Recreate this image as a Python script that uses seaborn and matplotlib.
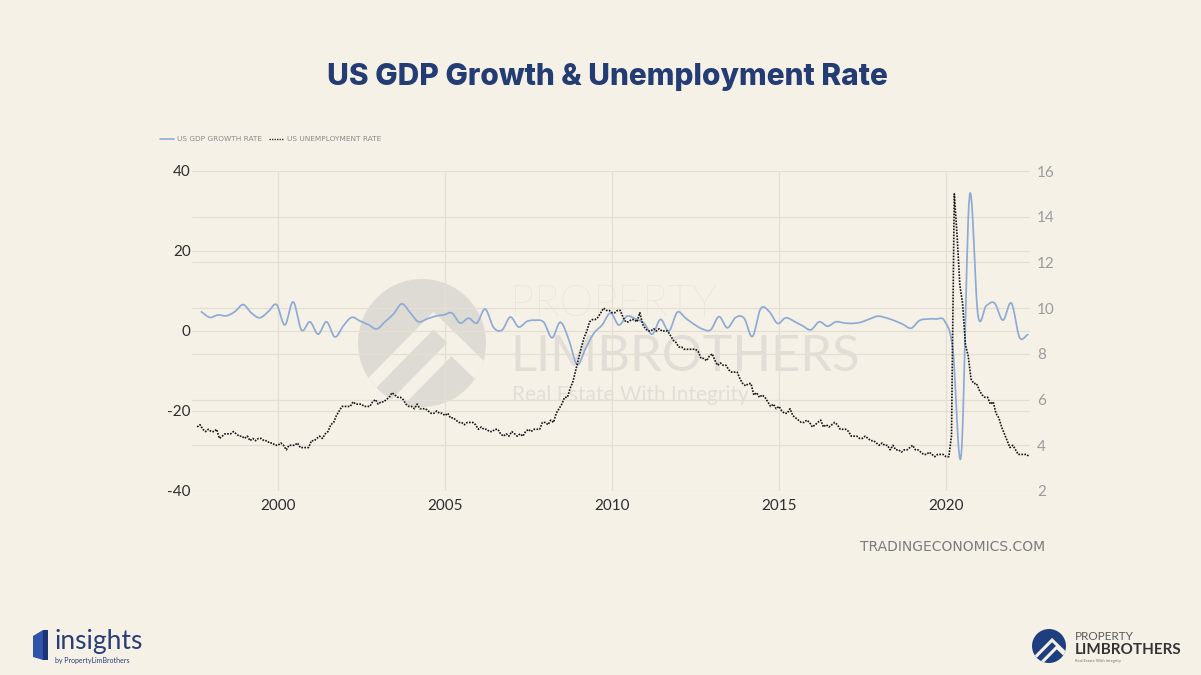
import numpy as np
import pandas as pd
import matplotlib
matplotlib.use("Agg")
import matplotlib.pyplot as plt
from matplotlib.lines import Line2D
from matplotlib.patches import Ellipse, Polygon
import seaborn as sns

# ---------------- data ----------------
# US real GDP growth, quarterly, annualised %, from 1997 Q3 to 2022 Q2
gdp_first_quarter = "1997Q3"
gdp_growth = [
    4.8, 3.4,                    # 1997 Q3-Q4
    4.0, 3.8, 4.8, 6.6,          # 1998
    4.5, 3.3, 4.8, 6.6,          # 1999
    1.5, 7.3, 0.2, 2.3,          # 2000
    -0.8, 2.3, -1.5, 1.3,        # 2001
    3.4, 2.5, 1.6, 0.5,          # 2002
    2.3, 4.2, 6.8, 4.6,          # 2003
    2.3, 3.0, 3.7, 4.0,          # 2004
    4.5, 2.0, 3.2, 2.0,          # 2005
    5.5, 0.9, 0.2, 3.5,          # 2006
    1.0, 2.4, 2.7, 2.2,          # 2007
    -1.7, 2.2, -2.1, -8.4,       # 2008
    -4.5, -0.6, 1.5, 4.5,        # 2009
    1.5, 3.7, 3.0, 2.0,          # 2010
    -0.8, 2.9, 0.0, 4.7,         # 2011
    3.2, 1.7, 0.5, 0.3,          # 2012
    3.6, 0.8, 3.4, 3.2,          # 2013
    -1.4, 5.6, 4.9, 1.9,         # 2014
    3.3, 2.4, 1.3, 0.3,          # 2015
    2.3, 1.2, 2.3, 2.0,          # 2016
    1.9, 2.2, 3.0, 3.7,          # 2017
    3.3, 2.6, 1.7, 0.7,          # 2018
    2.6, 3.0, 3.0, 2.5,          # 2019
    -4.6, -31.2, 33.8, 4.0,      # 2020
    6.3, 7.0, 2.7, 7.0,          # 2021
    -1.6, -0.9,                  # 2022 Q1-Q2
]

# US unemployment rate, monthly %, from Aug 1997 to Jul 2022
unemp_first_month = "1997-08-01"
unemployment = [
    4.8, 4.9, 4.7, 4.6, 4.7,                                        # 1997 Aug-Dec
    4.6, 4.6, 4.7, 4.3, 4.4, 4.5, 4.5, 4.5, 4.6, 4.5, 4.4, 4.4,     # 1998
    4.3, 4.4, 4.2, 4.3, 4.2, 4.3, 4.3, 4.2, 4.2, 4.1, 4.1, 4.0,     # 1999
    4.0, 4.1, 4.0, 3.8, 4.0, 4.0, 4.0, 4.1, 3.9, 3.9, 3.9, 3.9,     # 2000
    4.2, 4.2, 4.3, 4.4, 4.3, 4.5, 4.6, 4.9, 5.0, 5.3, 5.5, 5.7,     # 2001
    5.7, 5.7, 5.7, 5.9, 5.8, 5.8, 5.8, 5.7, 5.7, 5.7, 5.9, 6.0,     # 2002
    5.8, 5.9, 5.9, 6.0, 6.1, 6.3, 6.2, 6.1, 6.1, 6.0, 5.8, 5.7,     # 2003
    5.7, 5.6, 5.8, 5.6, 5.6, 5.6, 5.5, 5.4, 5.4, 5.5, 5.4, 5.4,     # 2004
    5.3, 5.4, 5.2, 5.2, 5.1, 5.0, 5.0, 4.9, 5.0, 5.0, 5.0, 4.9,     # 2005
    4.7, 4.8, 4.7, 4.7, 4.6, 4.6, 4.7, 4.7, 4.5, 4.4, 4.5, 4.4,     # 2006
    4.6, 4.5, 4.4, 4.5, 4.4, 4.6, 4.7, 4.6, 4.7, 4.7, 4.7, 5.0,     # 2007
    5.0, 4.9, 5.1, 5.0, 5.4, 5.6, 5.8, 6.1, 6.1, 6.5, 6.8, 7.3,     # 2008
    7.8, 8.3, 8.7, 9.0, 9.4, 9.5, 9.5, 9.6, 9.8, 10.0, 9.9, 9.9,    # 2009
    9.8, 9.8, 9.9, 9.9, 9.6, 9.4, 9.4, 9.5, 9.5, 9.4, 9.8, 9.3,     # 2010
    9.1, 9.0, 9.0, 9.1, 9.0, 9.1, 9.0, 9.0, 9.0, 8.8, 8.6, 8.5,     # 2011
    8.3, 8.3, 8.2, 8.2, 8.2, 8.2, 8.2, 8.1, 7.8, 7.8, 7.7, 7.9,     # 2012
    8.0, 7.7, 7.5, 7.6, 7.5, 7.5, 7.3, 7.2, 7.2, 7.2, 6.9, 6.7,     # 2013
    6.6, 6.7, 6.7, 6.2, 6.3, 6.1, 6.2, 6.1, 5.9, 5.7, 5.8, 5.6,     # 2014
    5.7, 5.5, 5.4, 5.4, 5.6, 5.3, 5.2, 5.1, 5.0, 5.0, 5.1, 5.0,     # 2015
    4.8, 4.9, 5.0, 5.1, 4.8, 4.9, 4.8, 4.9, 5.0, 4.9, 4.7, 4.7,     # 2016
    4.7, 4.6, 4.4, 4.4, 4.4, 4.3, 4.3, 4.4, 4.3, 4.2, 4.2, 4.1,     # 2017
    4.0, 4.1, 4.0, 4.0, 3.8, 4.0, 3.8, 3.8, 3.7, 3.8, 3.8, 3.9,     # 2018
    4.0, 3.8, 3.8, 3.7, 3.6, 3.6, 3.7, 3.6, 3.5, 3.6, 3.6, 3.6,     # 2019
    3.5, 3.5, 4.4, 15.0, 13.2, 11.0, 10.2, 8.4, 7.9, 6.9, 6.7, 6.7, # 2020
    6.4, 6.2, 6.1, 6.1, 5.8, 5.9, 5.4, 5.2, 4.8, 4.5, 4.2, 3.9,     # 2021
    4.0, 3.8, 3.6, 3.6, 3.6, 3.6, 3.5,                              # 2022 Jan-Jul
]

series_labels = ["US GDP GROWTH RATE", "US UNEMPLOYMENT RATE"]
gdp_ticks = [-40, -20, 0, 20, 40]
unemp_ticks = [2, 4, 6, 8, 10, 12, 14, 16]
year_ticks = [2000, 2005, 2010, 2015, 2020]

title = "US GDP Growth & Unemployment Rate"
source = "TRADINGECONOMICS.COM"

# ---------------- style ----------------
W, H = 1201, 675
BG = "#f6f1e7"
NAVY = "#233c74"
GDP_BLUE = "#8dabd4"
GRID = "#e4ded3"
MARK_CIRCLE = "#dedbd5"
MARK_TEXT = "#e2ded7"

sns.set_theme(style="white")
plt.rcParams["font.family"] = ["Lato", "DejaVu Sans"]


def decimal_year(ts):
    ts = pd.DatetimeIndex(ts)
    days = np.where(ts.is_leap_year, 366.0, 365.0)
    return np.asarray(ts.year, float) + (np.asarray(ts.dayofyear, float) - 1) / days


def hermite_curve(x, y, steps=12):
    """Smooth cubic (Catmull-Rom style) curve through the given points."""
    x = np.asarray(x, float)
    y = np.asarray(y, float)
    slope = np.gradient(y)
    t = np.linspace(0, 1, steps, endpoint=False)
    h00 = 2 * t**3 - 3 * t**2 + 1
    h10 = t**3 - 2 * t**2 + t
    h01 = -2 * t**3 + 3 * t**2
    h11 = t**3 - t**2
    xs, ys = [], []
    for i in range(len(y) - 1):
        xs.append(x[i] + t * (x[i + 1] - x[i]))
        ys.append(h00 * y[i] + h10 * slope[i] + h01 * y[i + 1] + h11 * slope[i + 1])
    xs.append([x[-1]])
    ys.append([y[-1]])
    return np.concatenate(xs), np.concatenate(ys)


gdp_dates = (pd.period_range(gdp_first_quarter, periods=len(gdp_growth), freq="Q")
             .to_timestamp(how="end") - pd.Timedelta(days=15))
gdp_x = decimal_year(gdp_dates)
unemp_x = decimal_year(pd.date_range(unemp_first_month, periods=len(unemployment), freq="MS"))

fig = plt.figure(figsize=(W / 100, H / 100), dpi=100)
fig.patch.set_facecolor(BG)


def fx(px):
    return px / W


def fy(py):
    return 1 - py / H


ax = fig.add_axes([fx(192), fy(491), fx(1030) - fx(192), fy(171) - fy(491)])
ax.set_facecolor("none")

# GDP growth (left axis)
gx, gy = hermite_curve(gdp_x, gdp_growth)
sns.lineplot(x=gx, y=gy, ax=ax, color=GDP_BLUE, linewidth=1.25,
             estimator=None, sort=False, legend=False)

# unemployment (right axis)
ax2 = ax.twinx()
sns.lineplot(x=unemp_x, y=unemployment, ax=ax2, color="#161616", linewidth=1.2,
             linestyle=(0, (1, 0.8)), estimator=None, sort=False, legend=False)

ax.set_xlim(1997.425, 2022.515)
ax.set_ylim(gdp_ticks[0], gdp_ticks[-1])
ax2.set_ylim(unemp_ticks[0], unemp_ticks[-1])
ax.set_xticks(year_ticks)
ax.set_xticklabels([str(y) for y in year_ticks])
ax.set_yticks(gdp_ticks)
ax.set_yticklabels([str(v) for v in gdp_ticks])
ax2.set_yticks(unemp_ticks)
ax2.set_yticklabels([str(v) for v in unemp_ticks])

# right-axis gridlines, expressed in left-axis units so they sit under the lines
lo, hi = gdp_ticks[0], gdp_ticks[-1]
ulo, uhi = unemp_ticks[0], unemp_ticks[-1]
ax.set_yticks([lo + (v - ulo) / (uhi - ulo) * (hi - lo) for v in unemp_ticks], minor=True)
ax.grid(True, which="both", axis="y", color=GRID, linewidth=0.9)
ax.grid(True, which="major", axis="x", color=GRID, linewidth=0.9)
ax2.grid(False)
ax.set_axisbelow(True)

for a in (ax, ax2):
    a.set_xlabel("")
    a.set_ylabel("")
    for s in a.spines.values():
        s.set_visible(False)
ax.tick_params(which="both", length=0)
ax2.tick_params(which="both", length=0)
ax.tick_params(axis="y", pad=1, labelsize=11, labelcolor="#2e2e2e")
ax.tick_params(axis="x", pad=6, labelsize=11, labelcolor="#2e2e2e")
ax2.tick_params(axis="y", pad=5, labelsize=11, labelcolor="#9c9c9c")

# legend
handles = [Line2D([], [], color=GDP_BLUE, linewidth=1.2),
           Line2D([], [], color="#333333", linewidth=1.0, linestyle=(0, (1, 0.8)))]
fig.legend(handles, series_labels, loc="center left",
           bbox_to_anchor=(fx(153), fy(139)), ncol=2, frameon=False,
           handlelength=1.9, handletextpad=0.5, columnspacing=0.9,
           labelcolor="#8a8a8a", prop={"family": "DejaVu Sans", "size": 5.3})

# title and source
fig.text(fx(607), fy(77), title, ha="center", va="center", fontsize=21.5,
         fontweight="heavy", color=NAVY, family=["Inter", "DejaVu Sans"])
fig.text(fx(1045), fy(547), source, ha="right", va="center", fontsize=10,
         color="#7b7b7b", family="DejaVu Sans")

# ---------------- brand watermark behind the plot ----------------
def circle_mark(cx, cy, r, face, stripe, zorder, lw):
    circ = Ellipse((fx(cx), fy(cy)), 2 * r / W, 2 * r / H, transform=fig.transFigure,
                   facecolor=face, edgecolor="none", zorder=zorder)
    fig.patches.append(circ)
    for dx, dy in [(0.0, 0.0), (0.28, 0.42)]:
        px = np.array([-1.0, 0.18, 1.0]) + dx
        py = np.array([0.85, -0.35, 0.45]) + dy
        ln = Line2D(fx(cx + px * r), fy(cy + py * r), transform=fig.transFigure,
                    color=stripe, linewidth=lw, solid_joinstyle="miter",
                    solid_capstyle="butt", zorder=zorder + 0.1)
        ln.set_clip_path(circ)
        fig.lines.append(ln)


circle_mark(422, 343, 64, MARK_CIRCLE, BG, -2, 9)
fig.text(fx(510), fy(305), "PROPERTY", ha="left", va="center", fontsize=31,
         fontweight="light", color=MARK_TEXT, zorder=-1, family=["Lato", "DejaVu Sans"])
fig.text(fx(510), fy(357), "LIMBROTHERS", ha="left", va="center", fontsize=36.5,
         fontweight="normal", color=MARK_TEXT, zorder=-1, family=["Lato", "DejaVu Sans"])
fig.text(fx(512), fy(395), "Real Estate With Integrity", ha="left", va="center",
         fontsize=15, color=MARK_TEXT, zorder=-1, family=["Lato", "DejaVu Sans"])

# ---------------- footer brand marks ----------------
book = Polygon([(fx(33), fy(636)), (fx(43), fy(630)), (fx(47), fy(630)), (fx(47), fy(660)),
                (fx(43), fy(660)), (fx(33), fy(657))], closed=True,
               transform=fig.transFigure, facecolor="#2f54a8", edgecolor="none")
fig.patches.append(book)
spine = Polygon([(fx(43), fy(630)), (fx(48), fy(630)), (fx(48), fy(660)), (fx(43), fy(660))],
                closed=True, transform=fig.transFigure, facecolor="#1d3576", edgecolor="none")
fig.patches.append(spine)
fig.text(fx(54), fy(641), "insights", ha="left", va="center", fontsize=19,
         color="#2a3f78", family=["Lato", "DejaVu Sans"])
fig.text(fx(55), fy(661), "by PropertyLimBrothers", ha="left", va="center", fontsize=5,
         color="#2a3f78", family=["Lato", "DejaVu Sans"])

circle_mark(1049, 646, 17, "#1f3e80", BG, 2, 2.2)
fig.text(fx(1075), fy(636), "PROPERTY", ha="left", va="center", fontsize=8.5,
         color="#5a5a5a", family=["Lato", "DejaVu Sans"])
fig.text(fx(1075), fy(650), "LIMBROTHERS", ha="left", va="center", fontsize=11,
         fontweight="bold", color="#333333", family=["Lato", "DejaVu Sans"])
fig.text(fx(1075), fy(661), "Real Estate With Integrity", ha="left", va="center", fontsize=3,
         color="#777777", family=["Lato", "DejaVu Sans"])

fig.savefig("out.png", dpi=100, facecolor=BG)
